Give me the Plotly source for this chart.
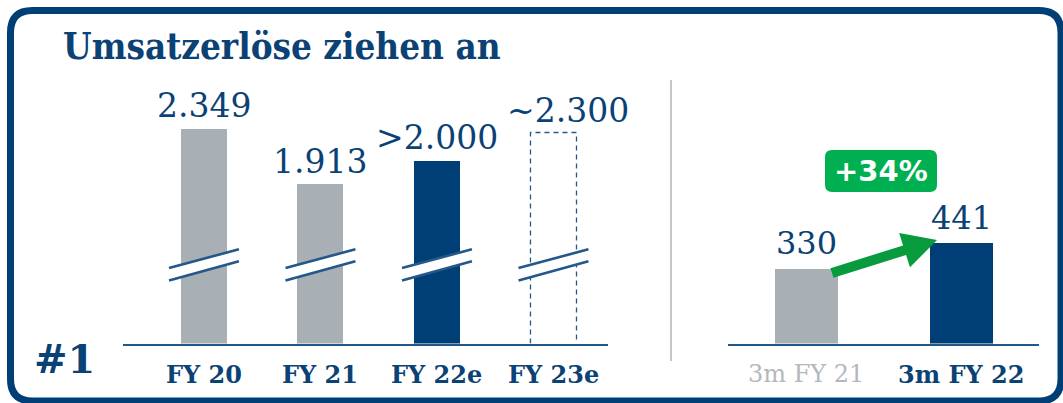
import numpy as np
import plotly.graph_objects as go

# ---------------- data ----------------
years = ["FY 20", "FY 21", "FY 22e", "FY 23e"]
# bar heights as drawn in the (axis-broken) chart
revenue_drawn = [2349, 1740, 2000, 2300]
revenue_labels = ["2.349", "1.913", ">2.000", "~2.300"]
revenue_kind = ["actual", "actual", "estimate", "forecast"]

quarters = ["3m FY 21", "3m FY 22"]
q_revenue = [330, 441]
q_labels = ["330", "441"]

title_text = "Umsatzerlöse ziehen an"
badge_text = "#1"

# ---------------- style ----------------
W, H = 1063, 403
BLUE = "#003F75"
BLUE_TXT = "#0B4275"
GREY = "#A8AFB5"
GREY_TXT = "#B3B8BD"
LINE_BLUE = "#24578A"
GREEN_BOX = "#00B050"
GREEN_ARROW = "#079B3E"
SERIF = "DejaVu Serif"


def px(x):
    return x / W


def py(y):
    return 1 - y / H


def rounded_rect(x0, y0, x1, y1, r):
    # pixel coords -> paper path
    rx, ry = r / W, r / H
    X0, X1 = px(x0), px(x1)
    Y0, Y1 = py(y0), py(y1)  # Y0 top, Y1 bottom
    return (f"M {X0+rx},{Y0} L {X1-rx},{Y0} Q {X1},{Y0} {X1},{Y0-ry} "
            f"L {X1},{Y1+ry} Q {X1},{Y1} {X1-rx},{Y1} L {X0+rx},{Y1} "
            f"Q {X0},{Y1} {X0},{Y1+ry} L {X0},{Y0-ry} Q {X0},{Y0} {X0+rx},{Y0} Z")


x_main = np.arange(len(years))
x_q = np.arange(len(quarters))

bar_colors = [GREY if k == "actual" else (BLUE if k == "estimate" else "rgba(0,0,0,0)")
              for k in revenue_kind]

fig = go.Figure()

fig.add_trace(go.Bar(x=x_main, y=revenue_drawn, width=0.395, marker=dict(color=bar_colors, line=dict(width=0)),
                     xaxis="x", yaxis="y", showlegend=False, hoverinfo="skip"))

# dashed outline for forecast bars
bw = 0.395
for i, (v, k) in enumerate(zip(revenue_drawn, revenue_kind)):
    if k == "forecast":
        fig.add_trace(go.Scatter(x=[i - bw / 2, i - bw / 2, i + bw / 2, i + bw / 2],
                                 y=[0, v, v, 0], mode="lines",
                                 line=dict(color=LINE_BLUE, width=1.3, dash="5px,4px"),
                                 xaxis="x", yaxis="y", showlegend=False, hoverinfo="skip"))

fig.add_trace(go.Bar(x=x_q, y=q_revenue, width=0.406, marker=dict(color=[GREY, BLUE], line=dict(width=0)),
                     xaxis="x2", yaxis="y2", showlegend=False, hoverinfo="skip"))

shapes = []
annotations = []

# axis-break marks (in data units of the left axis)
brk_lo = (688, 896)   # lower line: left, right
brk_hi = (823, 1027)  # upper line: left, right
brk_half = 0.30
for i in x_main:
    xl, xr = i - brk_half, i + brk_half
    shapes.append(dict(type="path", xref="x", yref="y", layer="above",
                       path=f"M {xl},{brk_lo[0]} L {xr},{brk_lo[1]} L {xr},{brk_hi[1]} L {xl},{brk_hi[0]} Z",
                       fillcolor="white", line=dict(width=0)))
    for a, b in (brk_lo, brk_hi):
        shapes.append(dict(type="line", xref="x", yref="y", layer="above",
                           x0=xl, y0=a, x1=xr, y1=b, line=dict(color=LINE_BLUE, width=2.6)))

# frame
shapes.append(dict(type="path", xref="paper", yref="paper", path=rounded_rect(10.5, 10.5, 1061, 401, 22),
                   line=dict(color=BLUE, width=7), fillcolor="rgba(0,0,0,0)", layer="above"))

# separator
shapes.append(dict(type="line", xref="paper", yref="paper", x0=px(671), x1=px(671), y0=py(80), y1=py(361),
                   line=dict(color="#C3C8CD", width=2)))

# green badge
shapes.append(dict(type="path", xref="paper", yref="paper", path=rounded_rect(825, 150, 937, 192, 7),
                   fillcolor=GREEN_BOX, line=dict(width=0)))

# green arrow polygon (pixel geometry)
tail = np.array([832.0, 273.0])
tip = np.array([937.0, 240.0])
u = (tip - tail) / np.linalg.norm(tip - tail)
n = np.array([-u[1], u[0]])
shaft_hw, head_len, head_hw = 5.0, 34.0, 18.0
neck = tip - u * head_len
pts = [tail + n * shaft_hw, neck + n * shaft_hw, neck + n * head_hw, tip,
       neck - n * head_hw, neck - n * shaft_hw, tail - n * shaft_hw]
path = "M " + " L ".join(f"{px(p[0])},{py(p[1])}" for p in pts) + " Z"
shapes.append(dict(type="path", xref="paper", yref="paper", path=path, fillcolor=GREEN_ARROW,
                   line=dict(width=0), layer="above"))

# title
annotations.append(dict(text=f"<b>{title_text}</b>", x=px(61), y=py(47), xref="paper", yref="paper",
                        xanchor="left", yanchor="middle", showarrow=False,
                        font=dict(family="DejaVu Serif Condensed, DejaVu Serif", size=36.5, color=BLUE_TXT)))
# badge #1
annotations.append(dict(text=f"<b>{badge_text}</b>", x=px(64), y=py(358), xref="paper", yref="paper",
                        xanchor="center", yanchor="middle", showarrow=False,
                        font=dict(family=SERIF, size=40, color=BLUE_TXT)))

# value labels left
label_xshift = [0, 0, 0, 15]
for i, (v, t) in enumerate(zip(revenue_drawn, revenue_labels)):
    annotations.append(dict(text=t, x=i, y=v, xref="x", yref="y", xanchor="center", yanchor="bottom",
                            yshift=1, xshift=label_xshift[i], showarrow=False,
                            font=dict(family=SERIF, size=33, color=BLUE_TXT)))
# category labels left
for i, t in enumerate(years):
    annotations.append(dict(text=f"<b>{t}</b>", x=i, y=py(374), xref="x", yref="paper",
                            xanchor="center", yanchor="middle", showarrow=False,
                            font=dict(family=SERIF, size=24, color=BLUE_TXT)))

# value labels right
for i, (v, t) in enumerate(zip(q_revenue, q_labels)):
    annotations.append(dict(text=t, x=i, y=v, xref="x2", yref="y2", xanchor="center", yanchor="bottom",
                            yshift=4, showarrow=False,
                            font=dict(family=SERIF, size=32, color=BLUE_TXT)))
# category labels right
q_styles = [dict(text=quarters[0], color=GREY_TXT), dict(text=f"<b>{quarters[1]}</b>", color=BLUE_TXT)]
for i, s in enumerate(q_styles):
    annotations.append(dict(text=s["text"], x=i, y=py(374), xref="x2", yref="paper",
                            xanchor="center", yanchor="middle", showarrow=False,
                            font=dict(family=SERIF, size=24, color=s["color"])))

# growth badge text
growth = round((q_revenue[1] / q_revenue[0] - 1) * 100)
annotations.append(dict(text=f"<b>+{growth}%</b>", x=px(881), y=py(171.5), xref="paper", yref="paper",
                        xanchor="center", yanchor="middle", showarrow=False,
                        font=dict(family="DejaVu Sans", size=29, color="white")))

y_dom = [(H - 343.5) / H, (H - 43.5) / H]
axis_common = dict(showgrid=False, zeroline=False, ticks="", showticklabels=False, fixedrange=True)

fig.update_layout(
    width=W, height=H, margin=dict(l=0, r=0, t=0, b=0),
    paper_bgcolor="white", plot_bgcolor="rgba(0,0,0,0)",
    xaxis=dict(domain=[px(123), px(608)], range=[-0.695, 3.468], type="linear",
               showline=True, linecolor=LINE_BLUE, linewidth=2, anchor="y", **axis_common),
    yaxis=dict(domain=y_dom, range=[0, 2349 * 300 / 215.5], anchor="x", showline=False, **axis_common),
    xaxis2=dict(domain=[px(728), px(1039)], range=[-0.506, 1.5], type="linear",
                showline=True, linecolor=LINE_BLUE, linewidth=2, anchor="y2", **axis_common),
    yaxis2=dict(domain=y_dom, range=[0, 330 * 300 / 75.5], anchor="x2", showline=False, **axis_common),
    shapes=shapes, annotations=annotations, bargap=0,
)

fig.write_html("out.html", config={"displayModeBar": False},
               post_script="document.body.style.margin='0';document.body.style.overflow='hidden';")
